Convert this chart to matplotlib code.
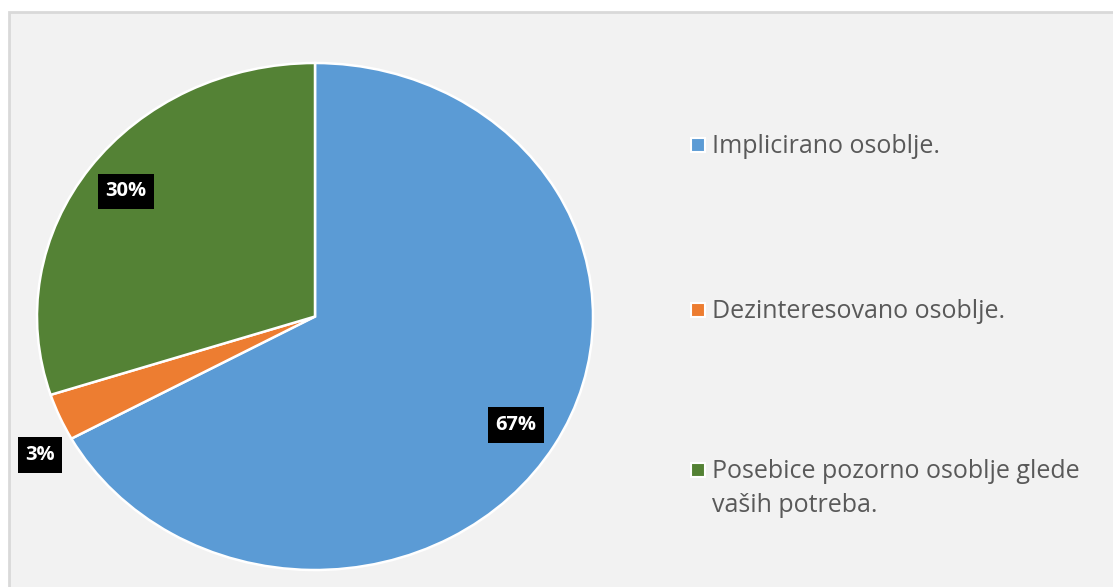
import numpy as np
import matplotlib.pyplot as plt
from matplotlib.patches import Rectangle

# data
labels = ['Implicirano osoblje.', 'Dezinteresovano osoblje.',
          'Posebice pozorno osoblje glede\nvaših potreba.']
shares = [67, 3, 30]
colors = ['#5B9BD5', '#ED7D31', '#548235']

W, H = 1113, 587
fig = plt.figure(figsize=(W / 100, H / 100), dpi=100)
fig.patch.set_facecolor('white')

# grey chart area with thin border (only top/left visible)
fig.patches.append(Rectangle((9 / W, -0.1), 1.2, (H - 12) / H + 0.1,
                             transform=fig.transFigure, facecolor='#F2F2F2',
                             edgecolor='#D9D9D9', lw=2, zorder=-10))

# pie axes, slightly wider than tall like the original
ax = fig.add_axes([37 / W, (H - 570) / H, 556 / W, 507 / H])
ax.axis('off')

wedges, _ = ax.pie(shares, colors=colors, startangle=90, counterclock=False,
                   radius=1, wedgeprops=dict(edgecolor='white', linewidth=1.8))
ax.set_aspect('auto')
ax.set_xlim(-1, 1)
ax.set_ylim(-1, 1)

# label distance / angle shift per slice (the small one sits outside)
dist = [0.84, 1.13, 0.84]
shift = [0, 5.5, 0]
for w, s, d, a in zip(wedges, shares, dist, shift):
    mid = np.deg2rad((w.theta1 + w.theta2) / 2 + a)
    ax.text(d * np.cos(mid), d * np.sin(mid), f'{s}%', ha='center', va='center',
            color='white', fontsize=14.5, fontweight='bold', family='Open Sans',
            clip_on=False,
            bbox=dict(boxstyle='square,pad=0.38', facecolor='black', edgecolor='none'))

# legend drawn by hand so the square sits on the first text line
leg_y = [145, 310, 470]
for lab, c, y in zip(labels, colors, leg_y):
    fig.patches.append(Rectangle((691 / W, (H - y - 7) / H), 14 / W, 14 / H,
                                 transform=fig.transFigure, facecolor=c,
                                 edgecolor='white', lw=1.5, zorder=3))
    fig.text(712 / W, (H - y + 11) / H, lab, ha='left', va='top',
             fontsize=18, color='#595959', family='Open Sans', linespacing=1.5)

fig.savefig('out.png', dpi=100)
